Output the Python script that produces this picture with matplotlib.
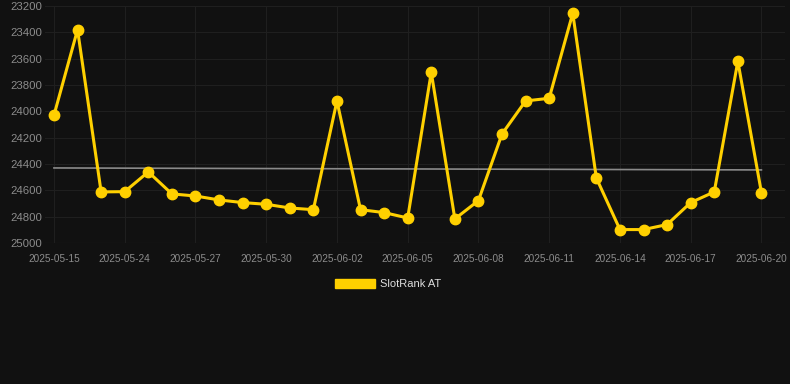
import matplotlib
matplotlib.use("Agg")
import matplotlib.pyplot as plt
from matplotlib.patches import Patch

dates = ["2025-05-15", "2025-05-18", "2025-05-21", "2025-05-24", "2025-05-25", "2025-05-26",
         "2025-05-27", "2025-05-28", "2025-05-29", "2025-05-30", "2025-05-31", "2025-06-01",
         "2025-06-02", "2025-06-03", "2025-06-04", "2025-06-05", "2025-06-06", "2025-06-07",
         "2025-06-08", "2025-06-09", "2025-06-10", "2025-06-11", "2025-06-12", "2025-06-13",
         "2025-06-14", "2025-06-15", "2025-06-16", "2025-06-17", "2025-06-18", "2025-06-19",
         "2025-06-20"]
ranks = [24030, 23380, 24612, 24610, 24460, 24627, 24643, 24673, 24693, 24706, 24734, 24747,
         23921, 24747, 24769, 24810, 23704, 24817, 24678, 24172, 23921, 23901, 23255, 24506,
         24898, 24898, 24860, 24693, 24612, 23620, 24617]
trend = [24430, 24445]
yticks = [23200, 23400, 23600, 23800, 24000, 24200, 24400, 24600, 24800, 25000]
series_name = "SlotRank AT"

BG = "#111111"
YEL = "#FFD000"

fig = plt.figure(figsize=(7.9, 3.84), dpi=100, facecolor=BG)
ax = fig.add_axes([45/790, 141/384, 740/790, 237/384], facecolor=BG)

x = list(range(len(dates)))
ax.plot([x[0], x[-1]], trend, color="#8a8a8a", lw=1.2, zorder=2)
ax.plot(x, ranks, color=YEL, lw=2.2, marker="o", markersize=7.5, zorder=3,
        solid_joinstyle="miter")

ax.set_xlim(-0.38, 31.0)
ax.set_ylim(25000, 23200)
ax.set_yticks(yticks)
ax.set_yticklabels([str(v) for v in yticks])
ax.set_xticks(x[::3])
ax.set_xticklabels(dates[::3])

for s in ax.spines.values():
    s.set_visible(False)
ax.grid(True, color="#1f1f1f", lw=0.8, zorder=0)
ax.axhline(25000, color="#2a2a2a", lw=0.8, zorder=1)
ax.tick_params(axis="y", length=0, pad=2, labelsize=8.2, labelcolor="#8c8c8c")
ax.tick_params(axis="x", length=0, pad=8, labelsize=7.2, labelcolor="#8c8c8c")
for lab in ax.get_xticklabels() + ax.get_yticklabels():
    lab.set_fontfamily("Liberation Sans")

leg = fig.legend(handles=[Patch(facecolor=YEL, edgecolor=YEL, label=series_name)],
                 loc="center", bbox_to_anchor=(388/790, 1 - 284/384), frameon=False,
                 handlelength=3.6, handleheight=0.9, handletextpad=0.5,
                 prop={"family": "Liberation Sans", "size": 8})
for t in leg.get_texts():
    t.set_color("#dddddd")

fig.savefig("out.png", dpi=100, facecolor=BG)
